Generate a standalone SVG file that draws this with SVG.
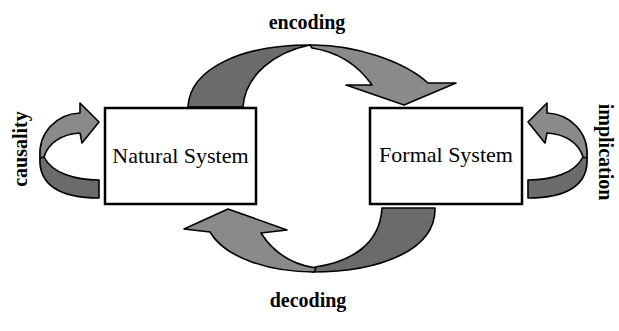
<svg xmlns="http://www.w3.org/2000/svg" width="619" height="331" viewBox="0 0 619 331">
  <style>
    .box { fill: #ffffff; stroke: #000000; stroke-width: 2.5; }
    .name { font-family: "Liberation Serif", "Times New Roman", serif; font-size: 22px; fill: #000000; text-anchor: middle; }
    .label { font-family: "Liberation Serif", "Times New Roman", serif; font-size: 20px; font-weight: bold; fill: #000000; text-anchor: middle; }
    .dark { fill: #6b6b6b; stroke: #000000; stroke-width: 1.6; stroke-linejoin: round; }
    .light { fill: #8a8a8a; stroke: #000000; stroke-width: 1.6; stroke-linejoin: round; }
  </style>

  <rect width="619" height="331" fill="#ffffff"/>

  <!-- connectors: ribbon arrows -->
  <g id="connectors">
    <g id="encoding-arrow">
      <path class="dark" d="M188,107 C190,68 242,45 310,45 C275,52 245,75 243,107 Z"/>
      <path class="light" d="M310,45 C355,44 405,62 428,83 L456,83 L404,105 L346,85 L372,85 C358,65 338,52 312,48 Z"/>
    </g>
    <g id="decoding-arrow">
      <path class="dark" d="M382,208 L435,208 C436,250 380,272 312,272 L315,267 C350,262 380,245 382,208 Z"/>
      <path class="light" d="M314,272 C270,272 225,258 210,232 L184,229 L228,209 L287,230 L261,233 C275,255 295,265 316,268 Z"/>
    </g>
    <g id="causality-arrow">
      <path class="dark" d="M40,157 C38,185 60,198 99,198 L99,180 C75,180 52,173 44,157 Z"/>
      <path class="light" d="M40,158 C38,133 56,114 80,113 L80,103 L99,122 L82,143 L80,133 C62,134 48,143 44,157 Z"/>
    </g>
    <g id="implication-arrow" transform="translate(627,0) scale(-1,1)">
      <path class="dark" d="M40,157 C38,185 60,198 99,198 L99,180 C75,180 52,173 44,157 Z"/>
      <path class="light" d="M40,158 C38,133 56,114 80,113 L80,103 L99,122 L82,143 L80,133 C62,134 48,143 44,157 Z"/>
    </g>
  </g>

  <!-- nodes -->
  <g id="natural-system">
    <rect class="box" x="105" y="108" width="151" height="96"/>
    <text class="name" x="180.5" y="163">Natural System</text>
  </g>
  <g id="formal-system">
    <rect class="box" x="370" y="108" width="152" height="96"/>
    <text class="name" x="446" y="162">Formal System</text>
  </g>

  <!-- arrow labels -->
  <g id="labels">
    <text class="label" x="307" y="29">encoding</text>
    <text class="label" x="308" y="307">decoding</text>
    <text class="label" transform="translate(27,149) rotate(-90)">causality</text>
    <text class="label" transform="translate(599,152) rotate(90)">implication</text>
  </g>
</svg>
